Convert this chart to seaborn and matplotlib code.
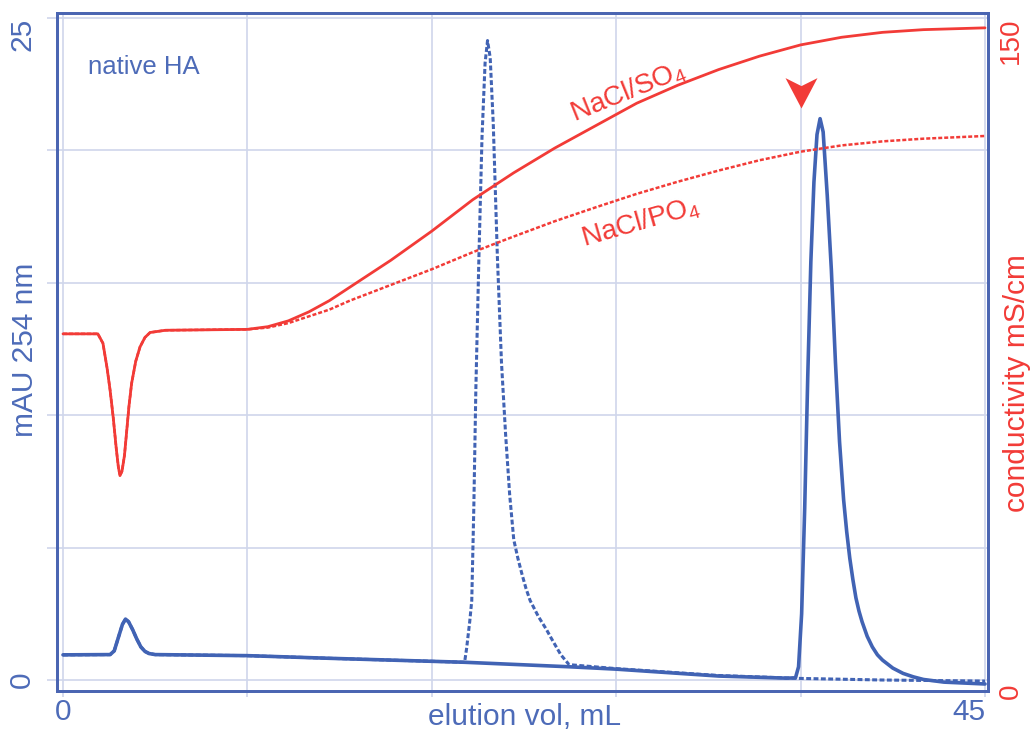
import numpy as np
import pandas as pd
import matplotlib
matplotlib.use("Agg")
import matplotlib.pyplot as plt
from matplotlib.path import Path
import seaborn as sns

# ---------------- data ----------------
# UV trace, NaCl/SO4 run (solid), mAU 254 nm
uv_so4_x = [0, 2.3, 2.5, 2.7, 2.9, 3.05, 3.2, 3.4, 3.6, 3.8, 4.0, 4.2, 4.5, 9, 13, 17.4, 19.6,
            24.7, 27, 32, 35.3, 35.75, 35.9, 36.05, 36.2, 36.35, 36.5, 36.65, 36.8, 36.95,
            37.1, 37.3, 37.5, 37.7, 37.9, 38.1, 38.25, 38.4, 38.55, 38.7, 38.85, 39.0, 39.25,
            39.5, 39.75, 40.0, 40.5, 41.0, 41.5, 42.0, 43.0, 45]
uv_so4_y = [0.95, 0.96, 1.1, 1.6, 2.1, 2.3, 2.2, 1.9, 1.55, 1.25, 1.08, 1.0, 0.96, 0.92, 0.82,
            0.72, 0.67, 0.5, 0.41, 0.15, 0.07, 0.08, 0.5, 2.5, 6.5, 11.5, 15.8, 18.8, 20.6,
            21.2, 20.7, 18.3, 15.5, 12.0, 9.0, 6.8, 5.6, 4.6, 3.8, 3.1, 2.6, 2.2, 1.65,
            1.25, 0.95, 0.75, 0.45, 0.25, 0.12, 0.02, -0.08, -0.15]

# UV trace, NaCl/PO4 run (dashed)
uv_po4_x = [0, 2.3, 2.5, 2.7, 2.9, 3.05, 3.2, 3.4, 3.6, 3.8, 4.0, 4.2, 4.5, 9, 13, 17.4, 19.6,
            19.7, 19.85, 19.95, 20.05, 20.15, 20.3, 20.45, 20.6, 20.72, 20.85, 21.0, 21.2,
            21.4, 21.6, 21.8, 22.0, 22.2, 22.4, 22.6, 22.8, 23.0, 23.2, 23.4, 23.6, 23.8,
            24.0, 24.3, 24.7, 27, 32, 36, 40, 45]
uv_po4_y = [0.95, 0.96, 1.1, 1.6, 2.1, 2.3, 2.2, 1.9, 1.55, 1.25, 1.08, 1.0, 0.96, 0.92, 0.82,
            0.72, 0.67, 1.2, 2.2, 3.0, 6.5, 11.0, 16.0, 20.5, 23.3, 24.15, 23.5, 21.0, 16.0,
            12.0, 9.3, 7.0, 5.3, 4.6, 4.0, 3.45, 3.0, 2.7, 2.4, 2.15, 1.9, 1.62,
            1.35, 0.95, 0.58, 0.43, 0.17, 0.06, 0.0, -0.04]

# conductivity, mS/cm
cond_x = [0, 1.7, 1.95, 2.15, 2.3, 2.45, 2.6, 2.7, 2.78, 2.88, 3.0, 3.1, 3.22, 3.35, 3.55,
          3.76, 4.0, 4.25, 5, 9, 10, 11, 12, 13, 14, 16, 18, 20, 22, 24, 26, 28, 30, 32,
          34, 36, 38, 40, 42, 45]
cond_so4 = [79.6, 79.6, 77.5, 72, 67, 61, 54, 50, 48, 49, 52.5, 57.5, 63.5, 68.6, 73.5,
            76.7, 78.8, 79.9, 80.4, 80.6, 81.2, 82.5, 84.5, 87, 90, 96, 102.5, 109.5,
            115.5, 121, 126, 131, 135, 138.5, 141.5, 144, 145.7, 146.8, 147.4, 147.8]
cond_po4 = [79.6, 79.6, 77.5, 72, 67, 61, 54, 50, 48, 49, 52.5, 57.5, 63.5, 68.6, 73.5,
            76.7, 78.8, 79.9, 80.4, 80.6, 81.0, 82.0, 83.5, 85, 87, 90.5, 94, 97.8,
            101.3, 104.7, 107.8, 110.8, 113.5, 116, 118.3, 120.2, 121.6, 122.5, 123.1, 123.7]

x_ticks = [0, 9, 18, 27, 36, 45]
x_ticklabels = ["0", "", "", "", "", "45"]
y_ticks = [0, 5, 10, 15, 20, 25]
y_ticklabels = ["0", "", "", "", "", "25"]
y2_ticks = [0, 150]
y2_ticklabels = ["0", "150"]

marker_x = [36.0]
marker_y = [22.2]

# ---------------- style ----------------
sns.set_theme(style="white")
plt.rcParams["font.family"] = ["Liberation Sans", "DejaVu Sans"]
plt.rcParams["mathtext.fontset"] = "custom"
plt.rcParams["mathtext.rm"] = "Liberation Sans"

BLUE = "#4163b4"
BLUE_TXT = "#4d6bb8"
SPINE = "#4a65b2"
GRID = "#cfd6eb"
RED = "#f23b37"
FS = 21.5

fig = plt.figure(figsize=(10.32, 7.32), dpi=100)
ax = fig.add_axes([57 / 1032, 1 - 691 / 732, 931 / 1032, 678 / 732])
ax2 = ax.twinx()

df_so4 = pd.DataFrame({"x": uv_so4_x, "y": uv_so4_y})
df_po4 = pd.DataFrame({"x": uv_po4_x, "y": uv_po4_y})
df_c = pd.DataFrame({"x": cond_x, "so4": cond_so4, "po4": cond_po4})

sns.lineplot(data=df_so4, x="x", y="y", ax=ax, color=BLUE, linewidth=2.6, zorder=3)
sns.lineplot(data=df_po4, x="x", y="y", ax=ax, color=BLUE, linewidth=2.2,
             linestyle=(0, (1.6, 0.8)), zorder=4)

sns.lineplot(data=df_c, x="x", y="so4", ax=ax2, color=RED, linewidth=2.0, zorder=3)
sns.lineplot(data=df_c, x="x", y="po4", ax=ax2, color=RED, linewidth=1.8,
             linestyle=(0, (1.6, 0.8)), zorder=4)

# arrowhead marker
chevron = Path([(0, -1), (-1, 0.9), (0, 0.4), (1, 0.9), (0, -1)],
               [Path.MOVETO, Path.LINETO, Path.LINETO, Path.LINETO, Path.CLOSEPOLY])
ax.plot(marker_x, marker_y, marker=chevron, markersize=23, color=RED,
        markeredgewidth=0, linestyle="none", zorder=5)

# limits
ax.set_xlim(-0.293, 45.146)
ax.set_ylim(-0.415, 25.19)
ax2.set_ylim(0, 151.11)

# grid
ax.set_xticks(x_ticks)
ax.set_xticklabels(x_ticklabels)
ax.set_yticks(y_ticks)
ax.set_yticklabels(y_ticklabels)
ax.grid(True, color=GRID, linewidth=1.2)
ax.set_axisbelow(True)

ax2.set_yticks(y2_ticks)
ax2.set_yticklabels(y2_ticklabels)
ax2.grid(False)

for a in (ax, ax2):
    for s in a.spines.values():
        s.set_color(SPINE)
        s.set_linewidth(2.0)

ax.tick_params(axis="x", direction="out", length=4, width=1.2, color=GRID,
               labelsize=FS, labelcolor=BLUE_TXT, pad=1, bottom=True)
ax.tick_params(axis="y", direction="out", length=7, width=1.2, color=GRID,
               labelsize=FS, labelcolor=BLUE_TXT, pad=8, left=True, labelrotation=90)
ax2.tick_params(axis="y", direction="out", length=0, labelsize=20, labelcolor=RED,
                pad=7, labelrotation=90)

# per-label alignment
xl = ax.get_xticklabels()
xl[-1].set_ha("right")
yl = ax.get_yticklabels()
for t in yl:
    t.set_va("center")
yl[-1].set_va("top")
y2l = ax2.get_yticklabels()
y2l[0].set_va("center")
y2l[1].set_va("top")

# axis labels
ax.set_xlabel("elution vol, mL", fontsize=FS, color=BLUE_TXT)
ax.xaxis.set_label_coords((525 - 57) / 931, -(731 - 691) / 678)
ax.xaxis.label.set_va("bottom")
ax.set_ylabel("mAU 254 nm", fontsize=FS, color=BLUE_TXT)
ax.yaxis.set_label_coords((25 - 57) / 931, 0.503)
ax.yaxis.label.set_va("center")
ax2.set_ylabel("conductivity mS/cm", fontsize=FS, color=RED)
ax2.yaxis.set_label_coords(1 + (1017 - 988) / 931, 0.454)
ax2.yaxis.label.set_va("center")

# annotations
ax.text(1.22, 22.9, "native HA", fontsize=18.5, color=BLUE_TXT, ha="left", va="baseline")
ax.text(27.6, 22.2, r"NaCl/SO$_\mathrm{4}$", fontsize=20, color=RED,
        ha="center", va="center", rotation=22, rotation_mode="anchor")
ax.text(28.2, 17.3, r"NaCl/PO$_\mathrm{4}$", fontsize=20, color=RED,
        ha="center", va="center", rotation=16, rotation_mode="anchor")

fig.savefig("out.png", dpi=100)
